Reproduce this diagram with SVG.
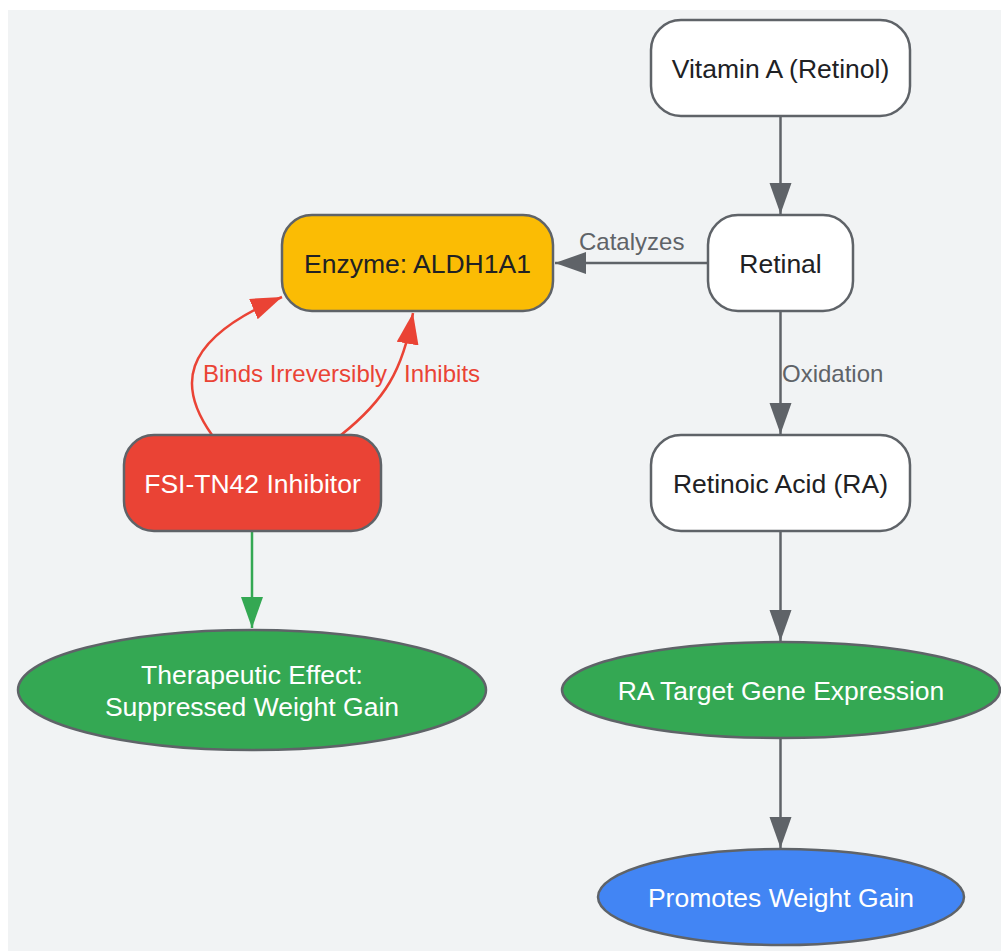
<svg xmlns="http://www.w3.org/2000/svg" width="1001" height="951" viewBox="0 0 1001 951">
<style>
.bg{fill:#f1f3f4}
.node{stroke:#5f6368;stroke-width:2.5}
.white{fill:#ffffff}
.yellow{fill:#fbbc04}
.red{fill:#ea4335}
.green{fill:#34a853}
.blue{fill:#4285f4}
.t{font-family:"Liberation Sans",Arial,sans-serif;font-size:26.5px;text-anchor:middle}
.dark{fill:#202124}
.light{fill:#ffffff}
.lbl{font-family:"Liberation Sans",Arial,sans-serif;font-size:24px}
.e-gray{fill:none;stroke:#5f6368;stroke-width:2.5}
.e-red{fill:none;stroke:#ea4335;stroke-width:2.5}
.e-green{fill:none;stroke:#34a853;stroke-width:2.5}
</style>
<defs>
<marker id="ah-gray" markerUnits="userSpaceOnUse" markerWidth="32" markerHeight="24" refX="31" refY="11" orient="auto"><path d="M0,0 L31,11 L0,22 z" fill="#5f6368"/></marker>
<marker id="ah-red" markerUnits="userSpaceOnUse" markerWidth="32" markerHeight="24" refX="31" refY="11" orient="auto"><path d="M0,0 L31,11 L0,22 z" fill="#ea4335"/></marker>
<marker id="ah-green" markerUnits="userSpaceOnUse" markerWidth="32" markerHeight="24" refX="31" refY="11" orient="auto"><path d="M0,0 L31,11 L0,22 z" fill="#34a853"/></marker>
</defs>
<rect class="bg" x="8" y="10" width="993" height="941"/>
<g id="connectors">
<path class="e-gray" d="M780.5,116 L780.5,214" marker-end="url(#ah-gray)"/>
<path class="e-gray" d="M708,263 L555,263" marker-end="url(#ah-gray)"/>
<path class="e-gray" d="M780.5,311 L780.5,434" marker-end="url(#ah-gray)"/>
<path class="e-gray" d="M780.5,531 L780.5,641" marker-end="url(#ah-gray)"/>
<path class="e-gray" d="M780.5,738 L780.5,848" marker-end="url(#ah-gray)"/>
<path class="e-green" d="M252,531 L252,628" marker-end="url(#ah-green)"/>
<path class="e-red" d="M212,435 C180,390 175,342 282,297" marker-end="url(#ah-red)"/>
<path class="e-red" d="M341,435 C385,400 403,370 413,313" marker-end="url(#ah-red)"/>
<text class="lbl" x="579" y="250" fill="#5f6368">Catalyzes</text>
<text class="lbl" x="782" y="382" fill="#5f6368">Oxidation</text>
<text class="lbl" x="203" y="382" fill="#ea4335">Binds Irreversibly</text>
<text class="lbl" x="404" y="382" fill="#ea4335">Inhibits</text>
</g>
<g id="vitaminA">
<rect class="node white" x="651" y="20" width="259" height="96" rx="30"/>
<text class="t dark" x="780.5" y="77.5">Vitamin A (Retinol)</text>
</g>
<g id="retinal">
<rect class="node white" x="708" y="215" width="145" height="96" rx="30"/>
<text class="t dark" x="780.5" y="272.5">Retinal</text>
</g>
<g id="enzyme">
<rect class="node yellow" x="282" y="215" width="271" height="96" rx="30"/>
<text class="t dark" x="417.5" y="272.5">Enzyme: ALDH1A1</text>
</g>
<g id="inhibitor">
<rect class="node red" x="124" y="435" width="257" height="96" rx="30"/>
<text class="t light" x="252.5" y="492.5">FSI-TN42 Inhibitor</text>
</g>
<g id="retinoicAcid">
<rect class="node white" x="651" y="435" width="259" height="96" rx="30"/>
<text class="t dark" x="780.5" y="492.5">Retinoic Acid (RA)</text>
</g>
<g id="therapeutic">
<ellipse class="node green" cx="252" cy="690" rx="234" ry="60"/>
<text class="t light" x="252" y="684">Therapeutic Effect:</text>
<text class="t light" x="252" y="716">Suppressed Weight Gain</text>
</g>
<g id="raTarget">
<ellipse class="node green" cx="781" cy="690" rx="219" ry="48"/>
<text class="t light" x="781" y="700">RA Target Gene Expression</text>
</g>
<g id="promotes">
<ellipse class="node blue" cx="781" cy="897" rx="183" ry="48"/>
<text class="t light" x="781" y="907">Promotes Weight Gain</text>
</g>
</svg>
